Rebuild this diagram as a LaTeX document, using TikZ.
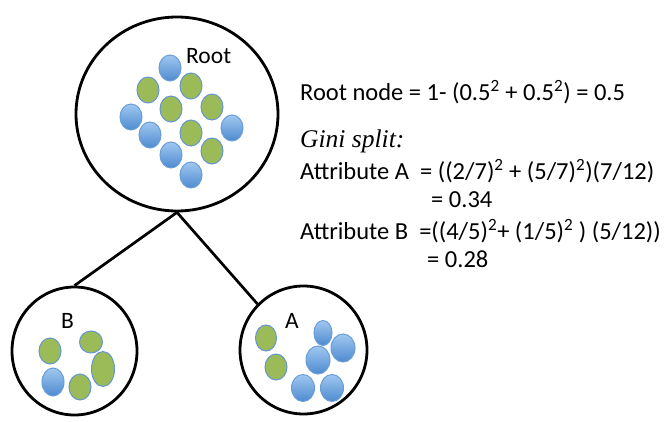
\documentclass[tikz,border=0pt]{standalone}
\usepackage{fontspec}
\setmainfont{Carlito}
\newfontfamily\timesit{Liberation Serif}
\usetikzlibrary{shapes.geometric}
\definecolor{bluetop}{RGB}{160,200,240}
\definecolor{bluebot}{RGB}{78,138,208}
\definecolor{blueline}{RGB}{105,158,215}
\definecolor{greenfill}{RGB}{155,187,89}
\definecolor{greenline}{RGB}{100,150,210}
\tikzset{
  bigcirc/.style={draw=black, line width=2.8pt, ellipse, inner sep=0pt},
  bdot/.style={ellipse, draw=blueline, line width=1pt, top color=bluetop, bottom color=bluebot, inner sep=0pt, minimum width=22pt, minimum height=26pt},
  gdot/.style={ellipse, draw=greenline, line width=1pt, fill=greenfill, inner sep=0pt, minimum width=22pt, minimum height=26pt},
  edge/.style={line width=2.7pt, black},
  txt/.style={anchor=base west, inner sep=0pt, font=\fontsize{24.5pt}{28pt}\selectfont},
  lbl/.style={anchor=base west, inner sep=0pt, font=\fontsize{23.5pt}{28pt}\selectfont},
}
\begin{document}
\begin{tikzpicture}[x=1pt,y=-1pt]
\useasboundingbox (0,0) rectangle (664,422);
\fill[white] (0,0) rectangle (664,422);
% big circles
\node[bigcirc, minimum width=202pt, minimum height=194pt] (root) at (177,114) {};
\node[bigcirc, minimum width=125pt, minimum height=128pt] (B) at (74.5,351) {};
\node[bigcirc, minimum width=127pt, minimum height=128pt] (A) at (303.5,350) {};
% connectors
\draw[edge] (root.south) -- (B.north);
\draw[edge] (root.south) -- (A.135);
% root dots
\node[bdot] (r1) at (170,68) {};
\node[gdot] (r2) at (148,90) {};
\node[gdot] (r3) at (191,86) {};
\node[bdot] (r4) at (131,117) {};
\node[gdot] (r5) at (171,109) {};
\node[gdot] (r6) at (212,107) {};
\node[bdot] (r7) at (150,135) {};
\node[gdot] (r8) at (191,133) {};
\node[bdot] (r9) at (232,128) {};
\node[bdot] (r10) at (171,155) {};
\node[gdot] (r11) at (212,151) {};
\node[bdot] (r12) at (191,175) {};
\node[lbl] (rootlbl) at (186,64) {Root};
% B dots
\node[gdot] (b1) at (50,351) {};
\node[gdot, minimum width=23pt, minimum height=22pt] (b2) at (91,342) {};
\node[gdot, minimum width=23pt, minimum height=35pt] (b3) at (103,369) {};
\node[bdot, minimum height=28pt] (b4) at (53,382) {};
\node[gdot] (b5) at (80,387) {};
\node[lbl] (blbl) at (61,328) {B};
% A dots
\node[gdot, minimum width=21pt] (a1) at (266,338) {};
\node[gdot] (a2) at (276,367) {};
\node[bdot, minimum width=18pt, minimum height=25pt] (a3) at (323,333) {};
\node[bdot, minimum width=24pt, minimum height=28pt] (a4) at (343,348) {};
\node[bdot, minimum width=24pt, minimum height=28pt] (a5) at (318,360) {};
\node[bdot, minimum width=23pt, minimum height=27pt] (a6) at (303,388) {};
\node[bdot, minimum width=23pt, minimum height=27pt] (a7) at (332,388) {};
\node[lbl] (albl) at (285,328) {A};
% text
\node[txt] (t1) at (300,101) {Root node = 1- (0.5\textsuperscript{2} + 0.5\textsuperscript{2}) = 0.5};
\node[txt, font=\timesit\fontsize{25.5pt}{30pt}\selectfont\itshape] (t2) at (300,148) {Gini split:};
\node[txt] (t3) at (300,180) {Attribute A\ \ = ((2/7)\textsuperscript{2} + (5/7)\textsuperscript{2})(7/12)};
\node[txt] (t4) at (431,208) {= 0.34};
\node[txt] (t5) at (300,240) {Attribute B\ \ =((4/5)\textsuperscript{2}+ (1/5)\textsuperscript{2} ) (5/12))};
\node[txt] (t6) at (427,267) {= 0.28};
\end{tikzpicture}
\end{document}
